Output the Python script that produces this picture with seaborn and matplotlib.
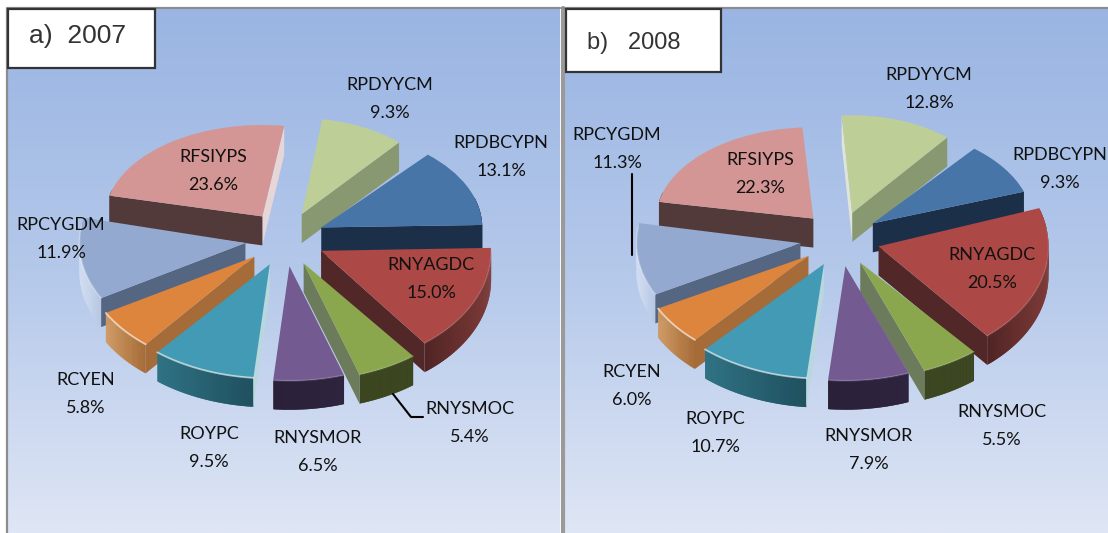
import matplotlib
matplotlib.use("Agg")
import matplotlib.pyplot as plt
from matplotlib.transforms import Affine2D
import numpy as np
import seaborn as sns

sns.set_theme(style="white")
plt.rcParams['font.family'] = ['Lato', 'DejaVu Sans']

# スライスの順番は時計回り
categories = ["RPDYYCM", "RPDBCYPN", "RNYAGDC", "RNYSMOC", "RNYSMOR",
              "ROYPC", "RCYEN", "RPCYGDM", "RFSIYPS"]
values_2007 = [9.3, 13.1, 15.0, 5.4, 6.5, 9.5, 5.8, 11.9, 23.6]
values_2008 = [12.8, 9.3, 20.5, 5.5, 7.9, 10.7, 6.0, 11.3, 22.3]

top_colors = ["#BDCF97", "#4775A8", "#AC4845", "#8BA74D", "#735A90",
              "#439AB4", "#DD853D", "#93A9D0", "#D49694"]
cut_lo = ["#889972", "#1C2F48", "#512727", "#6C7B5B", "#2E243F",
          "#B8D8DE", "#A56B38", "#556683", "#E6D6D8"]
cut_hi = ["#E0E4D8", "#1C2F48", "#512727", "#6C7B5B", "#2E243F",
          "#B8D8DE", "#A56B38", "#556683", "#533A3A"]
arc_left = ["#889972", "#1C2F48", "#512525", "#3B4620", "#2A2038",
            "#2F7283", "#D09A62", "#D5E0F2", "#533A3A"]
arc_right = ["#889972", "#1C2F48", "#7E3B38", "#3B4620", "#2E243F",
             "#1F4F5E", "#A56A35", "#B5C6E4", "#533A3A"]
glow = [0.0, 0.0, 0.1, 0.12, 0.15, 0.6, 0.6, 0.25, 0.0]

W, H = 1108, 533
SQUASH = 0.685
UNIT = 160.0
DEPTH = 29.0 / (UNIT * SQUASH)
EXPLODE = 40.0 / UNIT

# 遠近感の代わりにスライスごとの半径と縦の縮尺を変える
radii_2007 = [147, 161, 170, 180, 176, 177, 171, 166, 157]
radii_2008 = [150, 160, 170, 178, 176, 178, 170, 164, 157]
y_scales = [0.95, 0.88, 1.0, 0.95, 0.95, 0.94, 0.97, 0.98, 0.85]

labels_2007 = [(390, 99), (501, 157), (431, 279), (470, 423), (318, 452),
               (209, 448), (86, 394), (61, 239), (213, 171)]
labels_2008 = [(929, 89), (1060, 169), (992, 269), (1002, 426), (869, 450),
               (715, 433), (632, 386), (617, 149), (760, 174)]


def draw_pie(fig, values, radii, cx, cy, start):
    ax = fig.add_axes([0, 0, 1, 1], facecolor="none")
    wedges, _ = ax.pie(values, colors=top_colors, radius=1.0, startangle=start,
                       counterclock=False, explode=[EXPLODE] * len(values),
                       wedgeprops={"linewidth": 0})
    ax.set_aspect("auto")
    ax.set_xlim(-cx / UNIT, (W - cx) / UNIT)
    ax.set_ylim((cy - H) / (UNIT * SQUASH), cy / (UNIT * SQUASH))

    # 奥のスライスから順に描く
    order = np.argsort([-w.center[1] for w in wedges])
    for rank, i in enumerate(order):
        w = wedges[i]
        w.set_radius(radii[i] / UNIT)
        z = 10 + rank * 2
        w.set_zorder(z + 1)
        x0, y0 = w.center
        k = y_scales[i]
        w.set_transform(Affine2D().translate(-x0, -y0).scale(1, k)
                        .translate(x0, y0) + ax.transData)
        r = w.r
        t = np.radians(np.linspace(w.theta1, w.theta2, 80))
        xs = x0 + r * np.cos(t)
        ys = y0 + k * r * np.sin(t)

        # 外周の面は左右でグラデーション、隙間が出ないよう少し重ねる
        front = np.sin(t) < 0.15
        palette = sns.blend_palette([arc_left[i], arc_right[i]], 40)
        for j in range(78):
            if np.sin(t[j]) > 0.3:
                continue
            mix = np.clip((xs[j] - xs.min()) / max(xs.max() - xs.min(), 1e-6), 0, 1)
            ax.fill([xs[j], xs[j + 1], xs[j + 2], xs[j + 2], xs[j + 1], xs[j]],
                    [ys[j], ys[j + 1], ys[j + 2], ys[j + 2] - DEPTH,
                     ys[j + 1] - DEPTH, ys[j] - DEPTH],
                    color=palette[int(mix * 39)], linewidth=0, zorder=z)

        # 切り口の面は見える側だけ描く
        if np.cos(t[0]) > 0:
            ax.fill([x0, xs[0], xs[0], x0],
                    [y0, ys[0], ys[0] - DEPTH, y0 - DEPTH],
                    color=cut_lo[i], linewidth=0, zorder=z)
        if np.cos(t[-1]) < 0:
            ax.fill([x0, xs[-1], xs[-1], x0],
                    [y0, ys[-1], ys[-1] - DEPTH, y0 - DEPTH],
                    color=cut_hi[i], linewidth=0, zorder=z)

        if glow[i] > 0 and front.any():
            ax.plot(xs[front], ys[front], color="white", alpha=glow[i],
                    linewidth=1.3, zorder=z + 1.5, solid_capstyle="round")
    ax.axis("off")
    return ax


fig = plt.figure(figsize=(W / 100, H / 100), dpi=100)
fig.patch.set_facecolor("white")

# 背景とラベル用のピクセル座標の軸
bg = fig.add_axes([0, 0, 1, 1], zorder=0)
bg.set_xlim(0, W)
bg.set_ylim(H, 0)
bg.axis("off")
ramp = np.array(sns.blend_palette(["#9AB5E3", "#B4C8EA", "#DFE6F5"], 256))[:, :3]
ramp = ramp[:, np.newaxis, :]
for x1, x2 in [(7, 560), (565, W)]:
    bg.imshow(ramp, extent=(x1, x2, H, 8), aspect="auto", zorder=1)
bg.set_xlim(0, W)
bg.set_ylim(H, 0)
bg.plot([7, 7, 560], [H, 8, 8], color="#8C8C8C", linewidth=1.6, zorder=2)
bg.plot([562.5, 562.5], [8, H], color="#9A9A9A", linewidth=3.0, zorder=2)
bg.plot([562, W], [8, 8], color="#8C8C8C", linewidth=1.6, zorder=2)

pie_a = draw_pie(fig, values_2007, radii_2007, 285, 239, 82)
pie_b = draw_pie(fig, values_2008, radii_2008, 840, 239, 94)

top = fig.add_axes([0, 0, 1, 1], facecolor="none")
top.set_xlim(0, W)
top.set_ylim(H, 0)
top.axis("off")

for (x, y, w, h, name, tx, ty, fs) in [(8, 9, 147, 59, "a)  2007", 78, 36, 19),
                                       (566, 9, 155, 63, "b)   2008", 634, 43, 17)]:
    top.add_patch(plt.Rectangle((x, y), w, h, facecolor="white",
                                edgecolor="#333333", linewidth=1.6))
    top.text(tx, ty, name, ha="center", va="center", fontsize=fs,
             color="#333333", family="Liberation Sans")

for values, places in [(values_2007, labels_2007), (values_2008, labels_2008)]:
    for name, v, (x, y) in zip(categories, values, places):
        top.text(x, y, f"{name}\n{v:.1f}%", ha="center", va="center",
                 fontsize=13, linespacing=1.85, color="#111111")

# 引き出し線
top.plot([393, 411, 423], [394, 417, 417], color="black", linewidth=1.5)
top.plot([632, 632], [174, 255], color="black", linewidth=1.5)

fig.savefig("out.png", dpi=100)
